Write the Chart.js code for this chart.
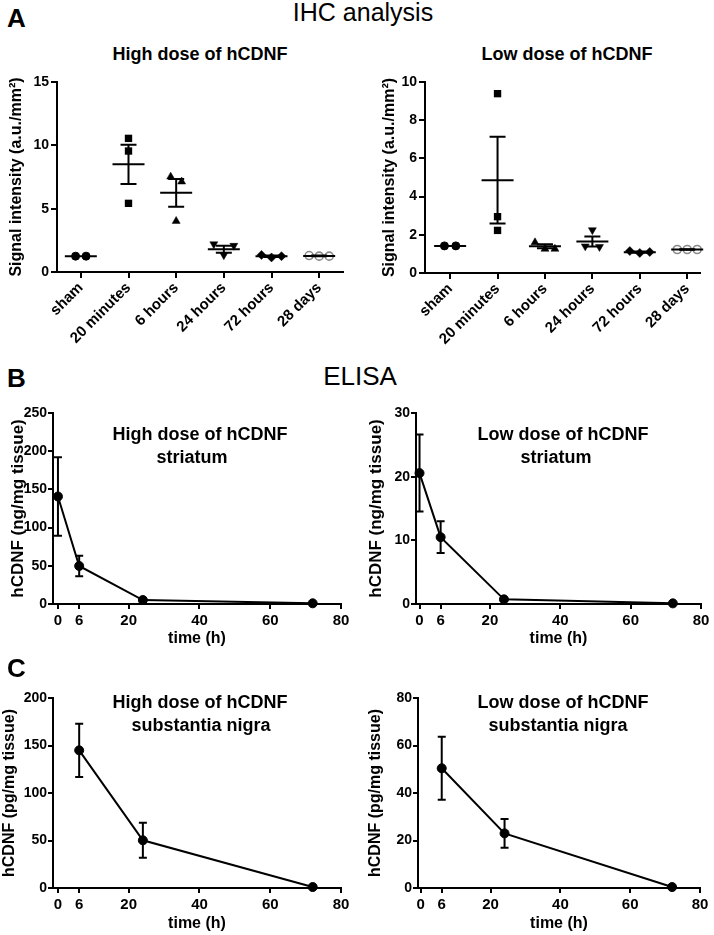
<!DOCTYPE html>
<html><head><meta charset="utf-8">
<script src="https://cdn.jsdelivr.net/npm/chart.js@4"></script>
<style>
html,body{margin:0;padding:0;background:#fff;}
body{width:714px;height:935px;position:relative;overflow:hidden;font-family:"Liberation Sans",Arial,Helvetica,sans-serif;color:#000;}
canvas{position:absolute;}
.t{position:absolute;white-space:nowrap;line-height:1;}
.c{transform:translateX(-50%);}
.b{font-weight:bold;}
</style></head><body>

<canvas id="aHigh"></canvas><canvas id="aLow"></canvas>
<canvas id="bHigh"></canvas><canvas id="bLow"></canvas>
<canvas id="cHigh"></canvas><canvas id="cLow"></canvas>

<div class="t b" style="left:7px;top:5px;font-size:26px;">A</div>
<div class="t c" style="left:363px;top:0px;font-size:25px;">IHC analysis</div>
<div class="t b c" style="left:200px;top:45px;font-size:18px;">High dose of hCDNF</div>
<div class="t b c" style="left:567px;top:45px;font-size:18px;">Low dose of hCDNF</div>

<div class="t b" style="left:7px;top:365px;font-size:26px;">B</div>
<div class="t c" style="left:360px;top:363px;font-size:26px;">ELISA</div>
<div class="t b c" style="left:200px;top:425px;font-size:18px;">High dose of hCDNF</div>
<div class="t b c" style="left:192px;top:448px;font-size:18px;">striatum</div>
<div class="t b c" style="left:563px;top:425px;font-size:18px;">Low dose of hCDNF</div>
<div class="t b c" style="left:556px;top:448px;font-size:18px;">striatum</div>

<div class="t b" style="left:7px;top:655px;font-size:26px;">C</div>
<div class="t b c" style="left:200px;top:693px;font-size:18px;">High dose of hCDNF</div>
<div class="t b c" style="left:201px;top:716px;font-size:18px;">substantia nigra</div>
<div class="t b c" style="left:563px;top:693px;font-size:18px;">Low dose of hCDNF</div>
<div class="t b c" style="left:558px;top:716px;font-size:18px;">substantia nigra</div>

<script>
// ---------------- DATA ----------------
const ihcCategories = ['sham', '20 minutes', '6 hours', '24 hours', '72 hours', '28 days'];

const highIhcValues = [[1.25, 1.25], [10.55, 9.55, 5.42], [7.52, 7.13, 4.02], [2.2, 2.08, 1.34], [1.35, 1.15, 1.25], [1.3, 1.25, 1.25]];
const highIhcMean = [1.25, 8.5, 6.25, 1.8, 1.25, 1.27];
const highIhcSem = [0, 1.55, 1.1, 0.28, 0.06, 0.03];

const lowIhcValues = [[1.42, 1.42], [9.39, 2.95, 2.23], [1.6, 1.26, 1.26], [1.4, 2.25, 1.37], [1.15, 1.05, 1.1], [1.23, 1.23, 1.23]];
const lowIhcMean = [1.42, 4.86, 1.4, 1.65, 1.09, 1.23];
const lowIhcSem = [0, 2.27, 0.1, 0.26, 0.03, 0.01];

const timeTicks = [0, 6, 20, 40, 60, 80];

const striatumTimes = [0, 6, 24, 72];
const highStriatumMean = [140.7, 49.8, 5.2, 0.9];
const highStriatumSem = [51.5, 13.4, 1.5, 0.3];
const lowStriatumMean = [20.56, 10.5, 0.73, 0.1];
const lowStriatumSem = [6.05, 2.5, 0.2, 0.05];

const nigraTimes = [6, 24, 72];
const highNigraMean = [144.9, 50.2, 1.0];
const highNigraSem = [28.1, 18.4, 0.3];
const lowNigraMean = [50.4, 23.0, 0.4];
const lowNigraSem = [13.25, 6.1, 0.1];

// ---------------- STYLE ----------------
const FONT = '"Liberation Sans", Arial, Helvetica, sans-serif';
Chart.defaults.font.family = FONT;
Chart.defaults.color = '#000';

// horizontal spread of replicate symbols, in category units (style only)
const highSpread = [[-0.11, 0.11], [0, 0, 0], [-0.115, 0.115, 0], [-0.21, 0.21, 0], [-0.21, 0, 0.21], [-0.21, 0, 0.21]];
const lowSpread = [[-0.12, 0.12], [0, 0, 0], [-0.21, 0, 0.21], [-0.15, 0, 0.15], [-0.21, 0, 0.21], [-0.21, 0, 0.21]];

const ihcStyles = [
  {style: 'circle', r: 4, fill: '#000', stroke: '#000', bw: 1, rot: 0},
  {style: 'rect', r: 5.2, fill: '#000', stroke: '#000', bw: 0, rot: 0},
  {style: 'triangle', r: 4.6, fill: '#000', stroke: '#000', bw: 0.5, rot: 0},
  {style: 'triangle', r: 4.6, fill: '#000', stroke: '#000', bw: 0.5, rot: 180},
  {style: 'rectRot', r: 4.5, fill: '#000', stroke: '#000', bw: 0.5, rot: 0},
  {style: 'circle', r: 4, fill: 'rgba(0,0,0,0)', stroke: '#8a8a8a', bw: 1.6, rot: 0}
];

function errorPlugin(xs, means, sems, o) {
  function draw(chart) {
    const {ctx} = chart;
    const x = chart.scales.x, y = chart.scales.y;
    ctx.save();
    ctx.strokeStyle = '#000';
    ctx.lineWidth = 2;
    ctx.lineCap = 'butt';
    xs.forEach((xv, i) => {
      const px = x.getPixelForValue(xv);
      if (o.meanHalf) {
        const py = y.getPixelForValue(means[i]);
        ctx.beginPath(); ctx.moveTo(px - o.meanHalf, py); ctx.lineTo(px + o.meanHalf, py); ctx.stroke();
      }
      const e = sems[i];
      if (!e) return;
      const top = y.getPixelForValue(means[i] + e);
      const bot = y.getPixelForValue(means[i] - e);
      ctx.beginPath();
      ctx.moveTo(px, top); ctx.lineTo(px, bot);
      ctx.moveTo(px - o.capHalf, top); ctx.lineTo(px + o.capHalf, top);
      ctx.moveTo(px - o.capHalf, bot); ctx.lineTo(px + o.capHalf, bot);
      ctx.stroke();
    });
    ctx.restore();
  }
  const p = {id: 'errbars'};
  if (o.onTop) p.afterDatasetsDraw = draw; else p.beforeDatasetsDraw = draw;
  return p;
}

function place(id, rect) {
  const c = document.getElementById(id);
  c.width = rect.width; c.height = rect.height;
  c.style.left = rect.left + 'px'; c.style.top = rect.top + 'px';
  c.style.width = rect.width + 'px'; c.style.height = rect.height + 'px';
  return c;
}

function axisLook(tickLen) {
  return {
    grid: {display: true, drawOnChartArea: false, drawTicks: true, tickLength: tickLen, color: '#000', lineWidth: 2},
    border: {display: true, color: '#000', width: 2}
  };
}

function baseOptions(rect, area) {
  return {
    responsive: false, animation: false, devicePixelRatio: 1,
    layout: {padding: {left: 0, top: area.top - rect.top, right: rect.left + rect.width - area.right, bottom: 0}},
    plugins: {legend: {display: false}, tooltip: {enabled: false}, title: {display: false}}
  };
}

function ihcChart(id, rect, area, cfg) {
  const canvas = place(id, rect);
  const opts = baseOptions(rect, area);
  opts.scales = {
    x: Object.assign(axisLook(6), {
      type: 'linear', min: cfg.xmin, max: cfg.xmax,
      afterBuildTicks: s => { s.ticks = ihcCategories.map((c, i) => ({value: i})); },
      afterFit: s => { s.height = rect.top + rect.height - area.bottom; },
      ticks: {autoSkip: false, minRotation: 45, maxRotation: 45, padding: 1,
        font: {size: 15, weight: 'bold'}, callback: v => ihcCategories[v]}
    }),
    y: Object.assign(axisLook(6), {
      type: 'linear', min: 0, max: cfg.ymax,
      afterFit: s => { s.width = area.left - rect.left; },
      ticks: {stepSize: cfg.step, padding: 2, font: {size: 14, weight: 'bold'}},
      title: {display: true, text: 'Signal intensity (a.u./mm\u00B2)', font: {size: 16, weight: 'bold'},
        padding: {top: cfg.titlePad, bottom: 0}}
    })
  };
  const datasets = cfg.values.map((vals, i) => {
    const st = ihcStyles[i];
    return {
      data: vals.map((v, j) => ({x: i + cfg.spread[i][j], y: v})),
      showLine: false, clip: false,
      pointStyle: st.style, rotation: st.rot, pointRadius: st.r,
      backgroundColor: st.fill, borderColor: st.stroke, borderWidth: st.bw,
      pointBackgroundColor: st.fill, pointBorderColor: st.stroke, pointBorderWidth: st.bw
    };
  });
  new Chart(canvas, {
    type: 'scatter',
    data: {datasets},
    options: opts,
    plugins: [errorPlugin(ihcCategories.map((c, i) => i), cfg.mean, cfg.sem, {meanHalf: 16, capHalf: 8, onTop: true})]
  });
}

function timeChart(id, rect, area, cfg) {
  const canvas = place(id, rect);
  const opts = baseOptions(rect, area);
  opts.scales = {
    x: Object.assign(axisLook(5), {
      type: 'linear', min: cfg.xmin, max: 80,
      afterBuildTicks: s => { s.ticks = timeTicks.map(v => ({value: v})); },
      afterFit: s => { s.height = rect.top + rect.height - area.bottom; },
      ticks: {autoSkip: false, maxRotation: 0, minRotation: 0, padding: 3, font: {size: 15, weight: 'bold'}},
      title: {display: true, text: 'time (h)', font: {size: 16, weight: 'bold'}, padding: {top: 0, bottom: cfg.xTitlePad}}
    }),
    y: Object.assign(axisLook(5), {
      type: 'linear', min: 0, max: cfg.ymax,
      afterFit: s => { s.width = area.left - rect.left; },
      ticks: {stepSize: cfg.step, padding: 1, font: {size: 14, weight: 'bold'}},
      title: {display: true, text: cfg.ytitle, font: {size: cfg.yTitleSize, weight: 'bold'},
        padding: {top: cfg.titlePad, bottom: 0}}
    })
  };
  new Chart(canvas, {
    type: 'scatter',
    data: {datasets: [{
      data: cfg.times.map((t, i) => ({x: t, y: cfg.mean[i]})),
      showLine: true, clip: false, tension: 0,
      borderColor: '#000', borderWidth: 2,
      pointStyle: 'circle', pointRadius: 4.5,
      pointBackgroundColor: '#000', pointBorderColor: '#000', pointBorderWidth: 1
    }]},
    options: opts,
    plugins: [errorPlugin(cfg.times, cfg.mean, cfg.sem, {meanHalf: 0, capHalf: 4, onTop: false})]
  });
}

// ---------------- PANEL A ----------------
ihcChart('aHigh', {left: 0, top: 66, width: 357, height: 284}, {left: 57, right: 343, top: 82, bottom: 272},
  {values: highIhcValues, mean: highIhcMean, sem: highIhcSem, spread: highSpread,
   ymax: 15, step: 5, xmin: -0.5, xmax: 5.5, titlePad: 7.4});
ihcChart('aLow', {left: 357, top: 66, width: 357, height: 284}, {left: 425, right: 700, top: 82, bottom: 273},
  {values: lowIhcValues, mean: lowIhcMean, sem: lowIhcSem, spread: lowSpread,
   ymax: 10, step: 2, xmin: -0.53, xmax: 5.27, titlePad: 22.9});

// ---------------- PANEL B ----------------
timeChart('bHigh', {left: 0, top: 395, width: 357, height: 260}, {left: 53, right: 341, top: 413, bottom: 604},
  {times: striatumTimes, mean: highStriatumMean, sem: highStriatumSem, ymax: 250, step: 50, xmin: -1.4,
   ytitle: 'hCDNF (ng/mg tissue)', yTitleSize: 17, titlePad: 7.8, xTitlePad: 6.9});
timeChart('bLow', {left: 357, top: 395, width: 357, height: 260}, {left: 416, right: 701, top: 413, bottom: 604},
  {times: striatumTimes, mean: lowStriatumMean, sem: lowStriatumSem, ymax: 30, step: 10, xmin: -1,
   ytitle: 'hCDNF (ng/mg tissue)', yTitleSize: 17, titlePad: 8.8, xTitlePad: 6.9});

// ---------------- PANEL C ----------------
timeChart('cHigh', {left: 0, top: 680, width: 357, height: 255}, {left: 53, right: 341, top: 698, bottom: 888},
  {times: nigraTimes, mean: highNigraMean, sem: highNigraSem, ymax: 200, step: 50, xmin: -1.4,
   ytitle: 'hCDNF (pg/mg tissue)', yTitleSize: 16, titlePad: 0, xTitlePad: 1.9});
timeChart('cLow', {left: 357, top: 680, width: 357, height: 255}, {left: 418, right: 700, top: 698, bottom: 888},
  {times: nigraTimes, mean: lowNigraMean, sem: lowNigraSem, ymax: 80, step: 20, xmin: -0.8,
   ytitle: 'hCDNF (pg/mg tissue)', yTitleSize: 16, titlePad: 8.8, xTitlePad: 1.9});
</script>
</body></html>
